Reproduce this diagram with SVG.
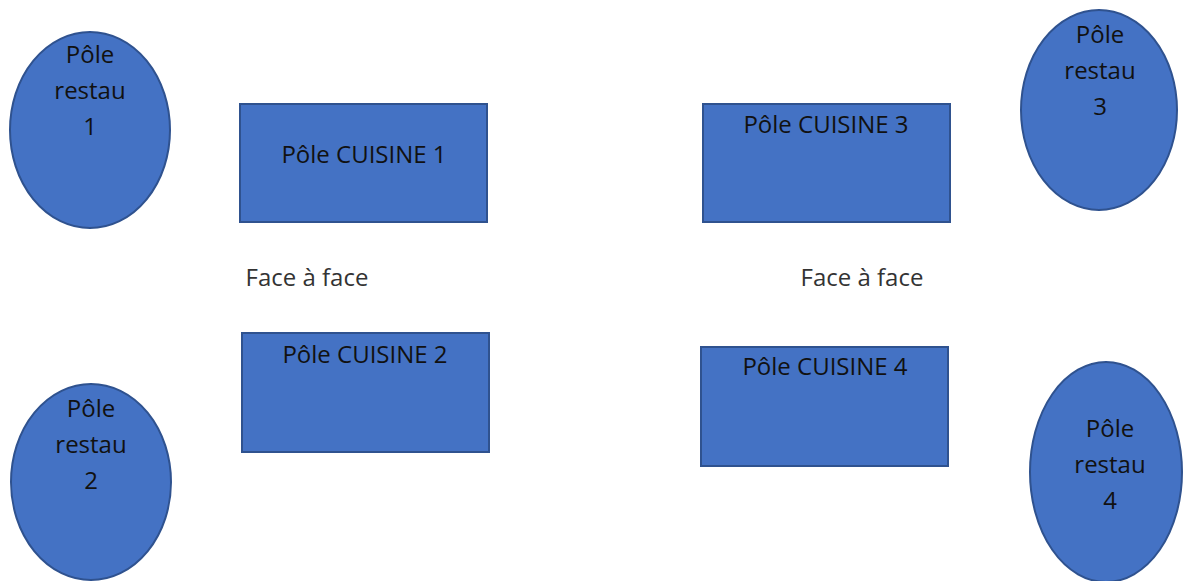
<svg xmlns="http://www.w3.org/2000/svg" width="1183" height="581" viewBox="0 0 1183 581">
<style>
.shape{fill:#4472C4;stroke:#2F528F;stroke-width:2}
.t{font-family:"Open Sans","Noto Sans",sans-serif;font-size:24px;fill:#111;text-anchor:middle}
.lbl{font-family:"Open Sans","Noto Sans",sans-serif;font-size:24px;fill:#333;text-anchor:middle}
</style>
<rect width="1183" height="581" fill="#fff"/>
<g id="restau1">
<ellipse class="shape" cx="90" cy="130" rx="80" ry="98"/>
<text class="t" x="90" y="63">Pôle</text>
<text class="t" x="90" y="99">restau</text>
<text class="t" x="90" y="135">1</text>
</g>
<g id="restau2">
<ellipse class="shape" cx="91" cy="482" rx="80" ry="98"/>
<text class="t" x="91" y="417">Pôle</text>
<text class="t" x="91" y="453">restau</text>
<text class="t" x="91" y="489">2</text>
</g>
<g id="restau3">
<ellipse class="shape" cx="1099" cy="110" rx="78" ry="100"/>
<text class="t" x="1100" y="43">Pôle</text>
<text class="t" x="1100" y="79">restau</text>
<text class="t" x="1100" y="115">3</text>
</g>
<g id="restau4">
<ellipse class="shape" cx="1106" cy="472" rx="76" ry="110"/>
<text class="t" x="1110" y="437">Pôle</text>
<text class="t" x="1110" y="473">restau</text>
<text class="t" x="1110" y="509">4</text>
</g>
<g id="cuisine1">
<rect class="shape" x="240" y="104" width="247" height="118"/>
<text class="t" x="364" y="163">Pôle CUISINE 1</text>
</g>
<g id="cuisine2">
<rect class="shape" x="242" y="333" width="247" height="119"/>
<text class="t" x="365" y="363">Pôle CUISINE 2</text>
</g>
<g id="cuisine3">
<rect class="shape" x="703" y="104" width="247" height="118"/>
<text class="t" x="826" y="133">Pôle CUISINE 3</text>
</g>
<g id="cuisine4">
<rect class="shape" x="701" y="347" width="247" height="119"/>
<text class="t" x="825" y="375">Pôle CUISINE 4</text>
</g>
<g id="labels">
<text class="lbl" x="307" y="286">Face à face</text>
<text class="lbl" x="862" y="286">Face à face</text>
</g>
<g id="connectors"></g>
</svg>
